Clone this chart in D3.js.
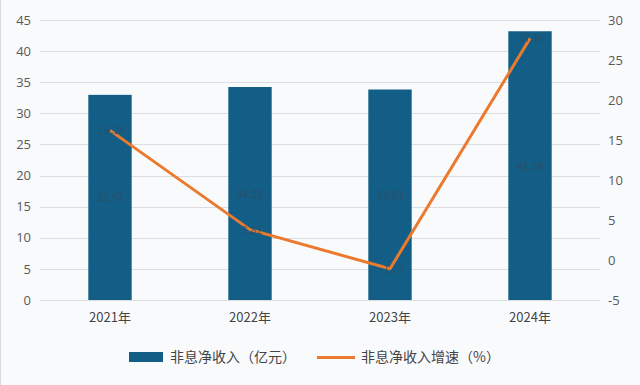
<!DOCTYPE html>
<html>
<head>
<meta charset="utf-8">
<script src="https://cdn.jsdelivr.net/npm/d3@7"></script>
<style>
  body { margin: 0; background: #f9fafc; }
  text { font-family: "Noto Sans CJK SC", "Noto Sans", sans-serif; }
</style>
</head>
<body>
<svg width="640" height="385"></svg>
<script>
// data
var years = ["2021年", "2022年", "2023年", "2024年"];
var income = [32.97, 34.23, 33.83, 43.19];      // 非息净收入（亿元）
var growth = [16.2, 3.8, -1.1, 27.7];         // 非息净收入增速（%）
var incomeLabels = ["32.97", "34.23", "33.83", "43.19"];
var growthLabels = ["16.24", "3.82", "-1.17", "27.66"];
var leftTicks = [0, 5, 10, 15, 20, 25, 30, 35, 40, 45];
var rightTicks = [-5, 0, 5, 10, 15, 20, 25, 30];

var w = 640, h = 385;
var plotLeft = 40, plotRight = 600, plotTop = 20, plotBottom = 300;

var svg = d3.select("svg");

svg.append("rect").attr("width", w).attr("height", h).attr("fill", "#f9fafc");
svg.append("line").attr("x1", 0.5).attr("x2", 0.5).attr("y1", 0).attr("y2", h)
    .attr("stroke", "#d8dadd").attr("stroke-width", 1);

var x = d3.scaleBand().domain(years).range([plotLeft, plotRight]).paddingInner(0.69).paddingOuter(0.345);
var xc = d3.scaleBand().domain(years).range([plotLeft, plotRight]);
var yL = d3.scaleLinear().domain([0, 45]).range([plotBottom, plotTop]);
var yR = d3.scaleLinear().domain([-5, 30]).range([plotBottom, plotTop]);

// gridlines
svg.append("g").selectAll("line").data(leftTicks).enter().append("line")
    .attr("x1", plotLeft).attr("x2", plotRight)
    .attr("y1", d => Math.round(yL(d)) + 0.5).attr("y2", d => Math.round(yL(d)) + 0.5)
    .attr("stroke", "#dcdde0").attr("stroke-width", 1);

// left axis
var gl = svg.append("g").attr("transform", "translate(" + plotLeft + ",0)")
    .call(d3.axisLeft(yL).tickValues(leftTicks).tickFormat(d => String(d)).tickSize(0).tickPadding(9));
gl.select(".domain").remove();
gl.selectAll("text").attr("font-size", 13).attr("fill", "#595959").style("font-family", "'Open Sans', 'Noto Sans', sans-serif");

// right axis
var gr = svg.append("g").attr("transform", "translate(" + plotRight + ",0)")
    .call(d3.axisRight(yR).tickValues(rightTicks).tickFormat(d => String(d)).tickSize(0).tickPadding(8));
gr.select(".domain").remove();
gr.selectAll("text").attr("font-size", 13).attr("fill", "#595959").style("font-family", "'Open Sans', 'Noto Sans', sans-serif");

// x axis
var gx = svg.append("g").attr("transform", "translate(0," + plotBottom + ")")
    .call(d3.axisBottom(xc).tickSize(0).tickPadding(13));
gx.select(".domain").remove();
gx.selectAll("text").attr("font-size", 13).attr("fill", "#444");

// bars
svg.append("g").selectAll("rect").data(income).enter().append("rect")
    .attr("x", (d, i) => x(years[i]))
    .attr("y", d => yL(d))
    .attr("width", x.bandwidth())
    .attr("height", d => yL(0) - yL(d))
    .attr("fill", "#135e87");

svg.append("g").selectAll("text").data(incomeLabels).enter().append("text")
    .attr("x", (d, i) => xc(years[i]) + xc.bandwidth() / 2)
    .attr("y", (d, i) => yL(income[i] / 2) + 4)
    .attr("text-anchor", "middle")
    .attr("font-size", 11)
    .attr("fill", "#2b4e66")
    .text(d => d);

// line
var line = d3.line()
    .x((d, i) => xc(years[i]) + xc.bandwidth() / 2)
    .y(d => yR(d));

svg.append("path").datum(growth)
    .attr("d", line)
    .attr("fill", "none")
    .attr("stroke", "#ec7a2e")
    .attr("stroke-width", 3)
    .attr("stroke-linejoin", "round");

svg.append("g").selectAll("text").data(growthLabels).enter().append("text")
    .attr("x", (d, i) => xc(years[i]) + xc.bandwidth() / 2 + 2)
    .attr("y", (d, i) => yR(growth[i]) + 4)
    .attr("text-anchor", "middle")
    .attr("font-size", 11)
    .attr("fill", "#2b4e66")
    .attr("opacity", 0.7)
    .text(d => d);

// legend
var lg = svg.append("g");
lg.append("rect").attr("x", 129).attr("y", 352).attr("width", 34).attr("height", 10).attr("fill", "#135e87");
lg.append("text").attr("x", 170).attr("y", 362).attr("font-size", 14).attr("fill", "#444")
    .text("非息净收入（亿元）");
lg.append("line").attr("x1", 317).attr("x2", 355).attr("y1", 357.5).attr("y2", 357.5)
    .attr("stroke", "#ec7a2e").attr("stroke-width", 3);
lg.append("text").attr("x", 361).attr("y", 362).attr("font-size", 14).attr("fill", "#444")
    .text("非息净收入增速（%）");
</script>
</body>
</html>
